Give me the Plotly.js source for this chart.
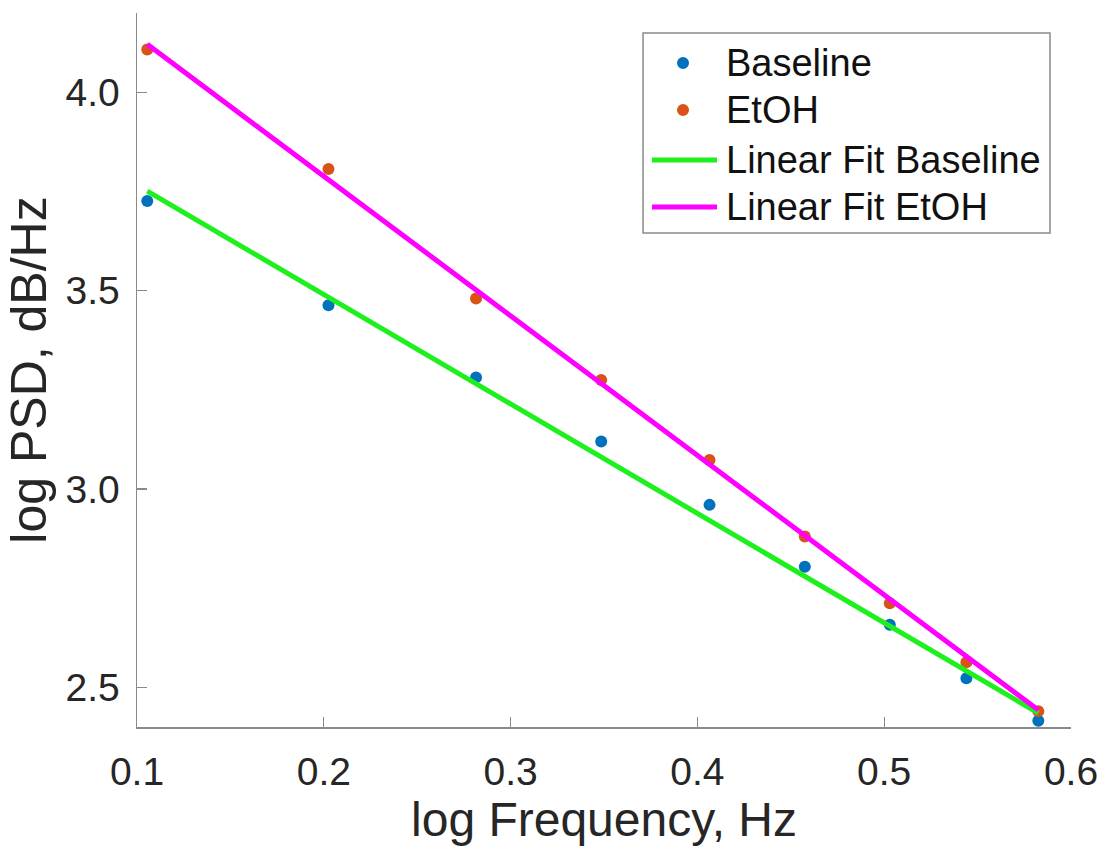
<!DOCTYPE html>
<html>
<head>
<meta charset="utf-8">
<script src="https://cdn.plot.ly/plotly-3.0.1.min.js"></script>
<style>html,body{margin:0;padding:0;background:#fff;}#chart{width:1108px;height:848px;}</style>
</head>
<body>
<div id="chart"></div>
<script>
// log frequency (x) values
const logFreq = [0.1055, 0.2025, 0.2815, 0.3485, 0.4065, 0.4575, 0.5030, 0.5440, 0.5825];
// log PSD values
const baseline = [3.726, 3.463, 3.281, 3.120, 2.960, 2.804, 2.658, 2.523, 2.416];
const etoh     = [4.108, 3.807, 3.480, 3.275, 3.073, 2.880, 2.712, 2.563, 2.440];
// linear fit end points
const fitX        = [0.1055, 0.5825];
const fitBaseline = [3.751, 2.435];
const fitEtOH     = [4.121, 2.443];
// legend entries
const legendNames = ['Baseline', 'EtOH', 'Linear Fit Baseline', 'Linear Fit EtOH'];

const FONT = '"Liberation Sans", Arial, Helvetica, sans-serif';
const BLUE = '#0072BD', ORANGE = '#D95319', GREEN = '#1EF01E', MAGENTA = '#FF00FF';

const traces = [
  {x: logFreq, y: baseline, name: legendNames[0], type: 'scatter', mode: 'markers',
   marker: {color: BLUE, size: 12}},
  {x: logFreq, y: etoh, name: legendNames[1], type: 'scatter', mode: 'markers',
   marker: {color: ORANGE, size: 12}},
  {x: fitX, y: fitBaseline, name: legendNames[2], type: 'scatter', mode: 'lines',
   line: {color: GREEN, width: 5}},
  {x: fitX, y: fitEtOH, name: legendNames[3], type: 'scatter', mode: 'lines',
   line: {color: MAGENTA, width: 5}}
];

const axisCommon = {
  showgrid: false, zeroline: false, showline: true,
  linecolor: '#8a8a8a', linewidth: 1.5,
  ticks: 'inside', ticklen: 10, tickwidth: 1.2, tickcolor: '#8a8a8a',
  tickfont: {family: FONT, size: 39, color: '#262626'},
  mirror: false
};

// custom legend (paper coordinates of the plot area)
const legBox = {x0: 0.5418, x1: 0.9775, y0: 0.6919, y1: 0.972};
const rowY = [0.930, 0.8641, 0.7941, 0.7283];
const symX0 = 0.5514, symX1 = 0.621, dotX = 0.5846, textX = 0.6285;
const symColors = [BLUE, ORANGE, GREEN, MAGENTA];

const shapes = [{type: 'rect', xref: 'paper', yref: 'paper',
  x0: legBox.x0, x1: legBox.x1, y0: legBox.y0, y1: legBox.y1,
  line: {color: '#8a8a8a', width: 1.5}, fillcolor: '#ffffff', layer: 'above'}];
const annotations = [];
legendNames.forEach((name, i) => {
  if (i < 2) {
    shapes.push({type: 'circle', xref: 'paper', yref: 'paper',
      xsizemode: 'pixel', ysizemode: 'pixel', xanchor: dotX, yanchor: rowY[i],
      x0: -6, x1: 6, y0: -6, y1: 6,
      fillcolor: symColors[i], line: {width: 0}, layer: 'above'});
  } else {
    shapes.push({type: 'line', xref: 'paper', yref: 'paper',
      x0: symX0, x1: symX1, y0: rowY[i], y1: rowY[i],
      line: {color: symColors[i], width: 5}, layer: 'above'});
  }
  annotations.push({xref: 'paper', yref: 'paper', x: textX, y: rowY[i],
    xanchor: 'left', yanchor: 'middle', showarrow: false, text: name,
    font: {family: FONT, size: 38, color: '#111'}});
});

const layout = {
  width: 1108, height: 848,
  paper_bgcolor: '#fff', plot_bgcolor: '#fff',
  margin: {l: 137, r: 37, t: 13, b: 121},
  showlegend: false,
  xaxis: Object.assign({}, axisCommon, {
    range: [0.1, 0.6], tickvals: [0.1, 0.2, 0.3, 0.4, 0.5, 0.6],
    ticktext: ['0.1', '0.2', '0.3', '0.4', '0.5', '0.6'],
    ticklabelstandoff: 10,
    title: {text: 'log Frequency, Hz', font: {family: FONT, size: 48, color: '#262626'}, standoff: 1}
  }),
  yaxis: Object.assign({}, axisCommon, {
    range: [2.4, 4.2], tickvals: [2.5, 3.0, 3.5, 4.0],
    ticktext: ['2.5', '3.0', '3.5', '4.0'],
    ticklabelstandoff: 8,
    title: {text: 'log PSD, dB/Hz', font: {family: FONT, size: 50, color: '#262626'}, standoff: 3}
  }),
  shapes: shapes,
  annotations: annotations
};

Plotly.newPlot('chart', traces, layout, {displayModeBar: false, staticPlot: true});
</script>
</body>
</html>
